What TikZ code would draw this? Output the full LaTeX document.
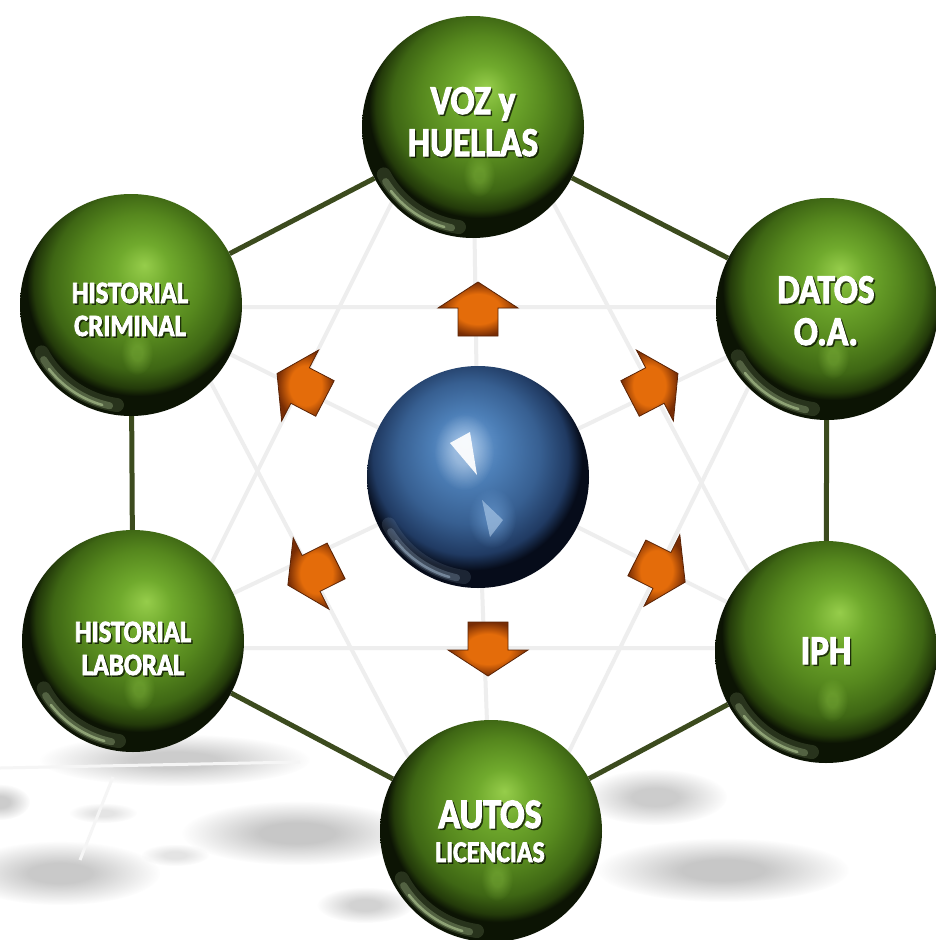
\documentclass[tikz,border=0pt]{standalone}
\usepackage{fontspec}
\usetikzlibrary{fadings}
\newfontfamily\lblfont[FakeStretch=0.86, FakeBold=2.5]{Carlito}

\definecolor{gHi}{RGB}{150,205,75}
\definecolor{gHiB}{RGB}{112,170,45}
\definecolor{gMid}{RGB}{86,136,30}
\definecolor{gDark}{RGB}{62,102,20}
\definecolor{gDeep}{RGB}{35,58,10}
\definecolor{gEdge}{RGB}{12,20,4}
\definecolor{bHi}{RGB}{115,165,220}
\definecolor{bMid}{RGB}{76,126,182}
\definecolor{bDark}{RGB}{55,95,145}
\definecolor{bDeep}{RGB}{32,58,98}
\definecolor{bEdge}{RGB}{6,12,26}
\definecolor{oC}{RGB}{228,108,10}
\definecolor{oE}{RGB}{120,45,5}
\definecolor{oLine}{RGB}{90,35,5}
\definecolor{hexcol}{RGB}{60,75,30}
\definecolor{webcol}{RGB}{238,238,238}
\definecolor{blobcol}{RGB}{196,196,196}
\definecolor{gRim}{RGB}{215,242,180}
\definecolor{bRim}{RGB}{195,220,245}

\pgfdeclareradialshading{greenball}{\pgfpoint{3bp}{9bp}}{color(0bp)=(gHi); color(6bp)=(gHiB); color(14bp)=(gMid); color(20bp)=(gDark); color(23.5bp)=(gDeep); color(25bp)=(gEdge); color(50bp)=(gEdge)}
\pgfdeclareradialshading{blueball}{\pgfpoint{-3bp}{8bp}}{color(0bp)=(bHi); color(8bp)=(bMid); color(16bp)=(bDark); color(22bp)=(bDeep); color(25bp)=(bEdge); color(50bp)=(bEdge)}
\pgfdeclareradialshading{orangeglow}{\pgfpointorigin}{color(0bp)=(oC); color(14bp)=(oC); color(25bp)=(oE); color(50bp)=(oE)}
\pgfdeclareradialshading{blobmask}{\pgfpointorigin}{color(0bp)=(white); color(8bp)=(white); color(25bp)=(black); color(50bp)=(black)}
\pgfdeclarefading{blobfade}{\pgfuseshading{blobmask}}

\pgfdeclarelayer{bg}
\pgfsetlayers{bg,main}

\tikzset{
  gsphere/.style={circle, minimum size=222pt, inner sep=0pt, shade, shading=greenball,
    path picture={
      \begin{scope}[shift={(path picture bounding box.center)}]
        \fill[gHi, opacity=0.35, path fading=blobfade] (6,48) ellipse (16 and 22);
        \draw[line width=14pt, gRim, opacity=0.14, line cap=round] (98:101) arc[start angle=98, end angle=152, radius=101];
        \draw[line width=7pt, gRim, opacity=0.25, line cap=round] (102:103) arc[start angle=102, end angle=148, radius=103];
        \draw[line width=2.5pt, gRim, opacity=0.45, line cap=round] (106:104) arc[start angle=106, end angle=142, radius=104];
      \end{scope}}},
  bsphere/.style={circle, minimum size=222pt, inner sep=0pt, shade, shading=blueball,
    path picture={
      \begin{scope}[shift={(path picture bounding box.center)}]
        \draw[line width=14pt, bRim, opacity=0.12, line cap=round] (98:101) arc[start angle=98, end angle=152, radius=101];
        \draw[line width=7pt, bRim, opacity=0.22, line cap=round] (102:103) arc[start angle=102, end angle=148, radius=103];
        \draw[line width=2.5pt, bRim, opacity=0.4, line cap=round] (106:104) arc[start angle=106, end angle=142, radius=104];
      \end{scope}}},
  hexline/.style={draw=hexcol, line width=5pt},
  webline/.style={draw=webcol, line width=4pt, line join=miter},
  lbl/.style={text=white, anchor=base, inner sep=0pt},
  lblshadow/.style={text=black, opacity=0.55, anchor=base, inner sep=0pt},
  arrowshape/.style={shade, shading=orangeglow, draw=oLine, line width=0.8pt, line join=miter}
}

\newcommand\sphlabel[4]{%
  \node[lblshadow, shift={(1.6,1.6)}, font=\lblfont\bfseries\fontsize{#3}{#3}\selectfont] at #2 {#4};
  \node[lbl, font=\lblfont\bfseries\fontsize{#3}{#3}\selectfont] (#1) at #2 {#4};
}

\newcommand\orarrow[2]{%
  \begin{scope}[shift={#1}, rotate=#2]
    \path[arrowshape] (27,0) -- (1,40) -- (1,20) -- (-27,20) -- (-27,-20) -- (1,-20) -- (1,-40) -- cycle;
  \end{scope}
}

\begin{document}
\begin{tikzpicture}[x=1pt, y=-1pt]
\useasboundingbox (0,0) rectangle (935,940);

% spheres
\node[gsphere] (voz)   at (473,127) {};
\node[gsphere] (datos) at (827,309) {};
\node[gsphere] (iph)   at (826,652) {};
\node[gsphere] (autos) at (491,831) {};
\node[gsphere] (hl)    at (133,641) {};
\node[gsphere] (hc)    at (131,305) {};
\node[bsphere] (hub)   at (478,477) {};

% star coordinates
\coordinate (t1) at (470,46);
\coordinate (t2) at (169,648);
\coordinate (t3) at (789,648);
\coordinate (s1) at (171,307);
\coordinate (s2) at (788,307);
\coordinate (s3) at (490,912);

\begin{pgfonlayer}{bg}
  \fill[white] (0,0) rectangle (935,940);
  % ground shadows
  \foreach \cx/\cy/\rx/\ry/\op in {175/760/135/26/0.85, 297/833/115/32/0.95, 60/873/100/32/0.9,
      0/802/30/18/0.85, 103/813/34/10/0.45, 175/855/34/11/0.45, 655/797/72/28/0.85,
      723/870/126/32/0.95, 365/905/48/18/0.75}
    \fill[blobcol, opacity=\op, path fading=blobfade] (\cx,\cy) ellipse ({\rx} and {\ry});
  \draw[webcol!60, line width=3pt] (0,768) -- (300,762);
  \draw[webcol!60, line width=3pt] (113,777) -- (80,860);
  % web
  \draw[webline] (t1) -- (t2) -- (t3) -- cycle;
  \draw[webline] (s1) -- (s2) -- (s3) -- cycle;
  \foreach \n in {voz,datos,iph,autos,hl,hc}
    \draw[webline] (hub.center) -- (\n.center);
  % hexagon
  \draw[hexline] (voz) -- (datos);
  \draw[hexline] (datos) -- (iph);
  \draw[hexline] (iph) -- (autos);
  \draw[hexline] (autos) -- (hl);
  \draw[hexline] (hl) -- (hc);
  \draw[hexline] (hc) -- (voz);
\end{pgfonlayer}

% hub highlights
\fill[white, opacity=0.35, path fading=blobfade] (464,452) ellipse (30 and 38);
\fill[white, opacity=0.92] (450,443) -- (470,432) -- (477,475) -- cycle;
\fill[bHi, opacity=0.45, path fading=blobfade] (492,518) ellipse (24 and 30);
\fill[bRim, opacity=0.5] (482,500) -- (503,520) -- (490,537) -- cycle;

% arrows
\orarrow{(478,309)}{90}
\orarrow{(488,649)}{-90}
\orarrow{(654,386)}{27.5}
\orarrow{(301,386)}{152.5}
\orarrow{(312,573)}{206.6}
\orarrow{(661,570)}{-26.6}

% labels
\sphlabel{vozA}{(473,114)}{41}{VOZ y}
\sphlabel{vozB}{(473,156)}{41}{HUELLAS}
\sphlabel{datosA}{(826,303)}{41}{DATOS}
\sphlabel{datosB}{(826,345)}{41}{O.A.}
\sphlabel{hcA}{(130,303)}{31}{HISTORIAL}
\sphlabel{hcB}{(130,336)}{31}{CRIMINAL}
\sphlabel{hlA}{(133,642)}{31}{HISTORIAL}
\sphlabel{hlB}{(133,675)}{31}{LABORAL}
\sphlabel{iphA}{(826,664)}{41}{IPH}
\sphlabel{autosA}{(490,828)}{42}{AUTOS}
\sphlabel{autosB}{(490,862)}{30}{LICENCIAS}
\end{tikzpicture}
\end{document}
